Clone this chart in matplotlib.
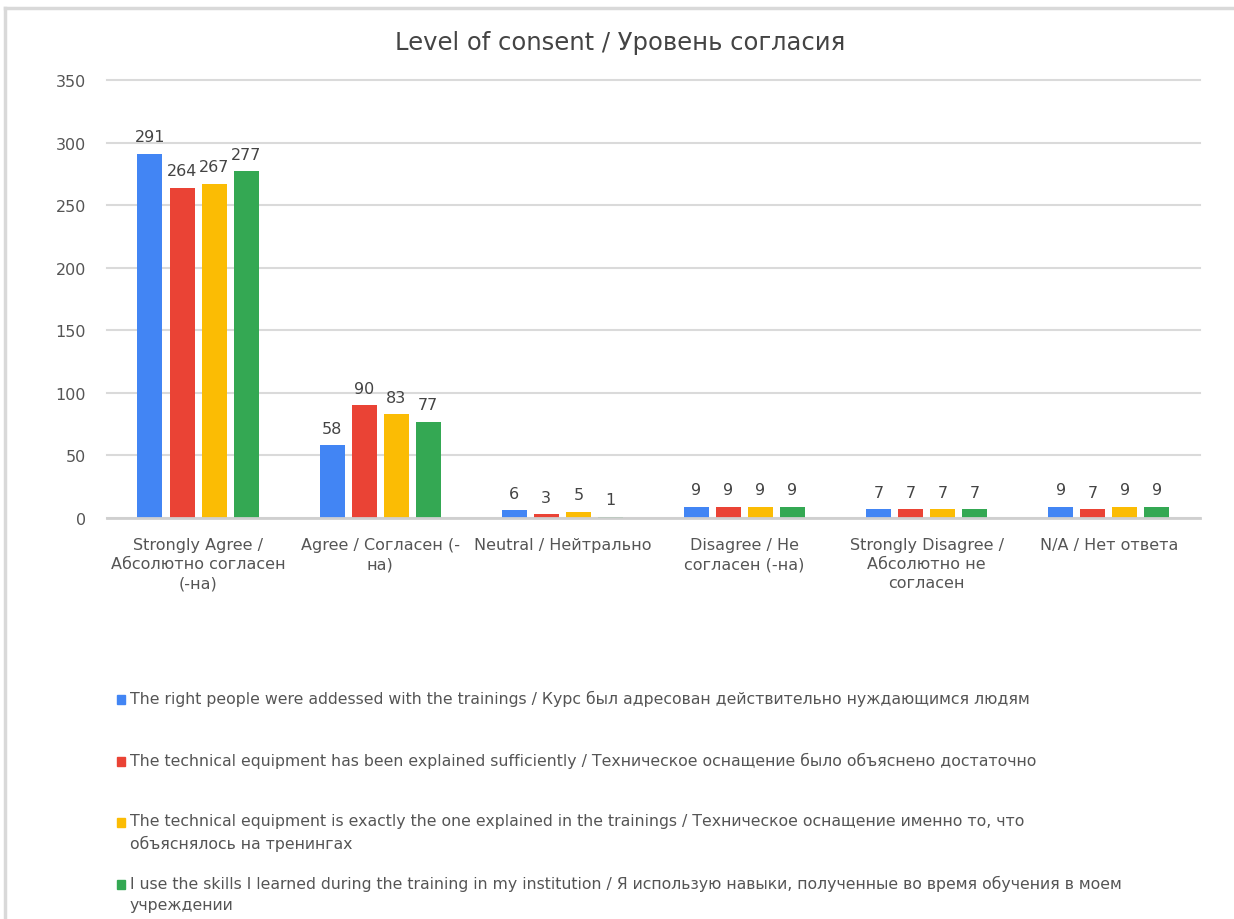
import matplotlib.pyplot as plt
from matplotlib.lines import Line2D
from matplotlib.patches import Rectangle
import numpy as np

plt.rcParams['font.family'] = ['DejaVu Sans']

categories = [
    'Strongly Agree /\nАбсолютно согласен\n(-на)',
    'Agree / Согласен (-\nна)',
    'Neutral / Нейтрально',
    'Disagree / Не\nсогласен (-на)',
    'Strongly Disagree /\nАбсолютно не\nсогласен',
    'N/A / Нет ответа',
]
series_labels = [
    'The right people were addessed with the trainings / Курс был адресован действительно нуждающимся людям',
    'The technical equipment has been explained sufficiently / Техническое оснащение было объяснено достаточно',
    'The technical equipment is exactly the one explained in the trainings / Техническое оснащение именно то, что\nобъяснялось на тренингах',
    'I use the skills I learned during the training in my institution / Я использую навыки, полученные во время обучения в моем\nучреждении',
]
right_people = [291, 58, 6, 9, 7, 9]
explained = [264, 90, 3, 9, 7, 7]
exact_equipment = [267, 83, 5, 9, 7, 9]
use_skills = [277, 77, 1, 9, 7, 9]
series_values = [right_people, explained, exact_equipment, use_skills]
colors = ['#4285F4', '#EA4335', '#FBBC04', '#34A853']

fig = plt.figure(figsize=(12.34, 9.2), dpi=100)
ax = fig.add_axes([0.0867, 0.4359, 0.8856, 0.4761])

x = np.arange(len(categories))
width = 0.137
step = 0.176
for i, (vals, c) in enumerate(zip(series_values, colors)):
    pos = x + (i - 1.5) * step
    bars = ax.bar(pos, vals, width=width, color=c, zorder=3)
    for b, v in zip(bars, vals):
        ax.text(b.get_x() + b.get_width() / 2, v + 7.5, str(v), ha='center', va='bottom',
                fontsize=11.5, color='#444444')

ax.set_xlim(-0.5, len(categories) - 0.5)
ax.set_ylim(0, 350)
ax.set_yticks(np.arange(0, 351, 50))
ax.grid(axis='y', color='#dadada', linewidth=1.5, zorder=0)
for gl in ax.get_ygridlines():
    gl.set_clip_on(False)
ax.axhline(0, color='#cfcfcf', linewidth=2, zorder=4, clip_on=False)
for s in ax.spines.values():
    s.set_visible(False)
ax.tick_params(axis='both', length=0, labelsize=11.5, labelcolor='#555555')
ax.tick_params(axis='y', pad=15)
ax.tick_params(axis='x', pad=14)
ax.set_xticks(x)
ax.set_xticklabels(categories, linespacing=1.33)

fig.text(0.5025, 0.953, 'Level of consent / Уровень согласия', ha='center', va='center',
         fontsize=17.5, color='#444444')

# legend drawn by hand
legend_y = [700, 762, 823, 885]
for lab, c, yp in zip(series_labels, colors, legend_y):
    yf = 1 - yp / 920
    fig.patches.append(Rectangle((117 / 1234, yf - 4.5 / 920), 8 / 1234, 9 / 920,
                                 transform=fig.transFigure, color=c))
    fig.text(130 / 1234, yf + 9 / 920, lab, ha='left', va='top', fontsize=11.3,
             color='#555555', linespacing=1.5)

# frame of the chart
fig.add_artist(Line2D([5 / 1234, 1], [1 - 9 / 920, 1 - 9 / 920], color='#d9d9d9',
                      linewidth=2.5, transform=fig.transFigure))
fig.add_artist(Line2D([5 / 1234, 5 / 1234], [0, 1 - 9 / 920], color='#d9d9d9',
                      linewidth=2.5, transform=fig.transFigure))

fig.savefig('out.png', dpi=100)
